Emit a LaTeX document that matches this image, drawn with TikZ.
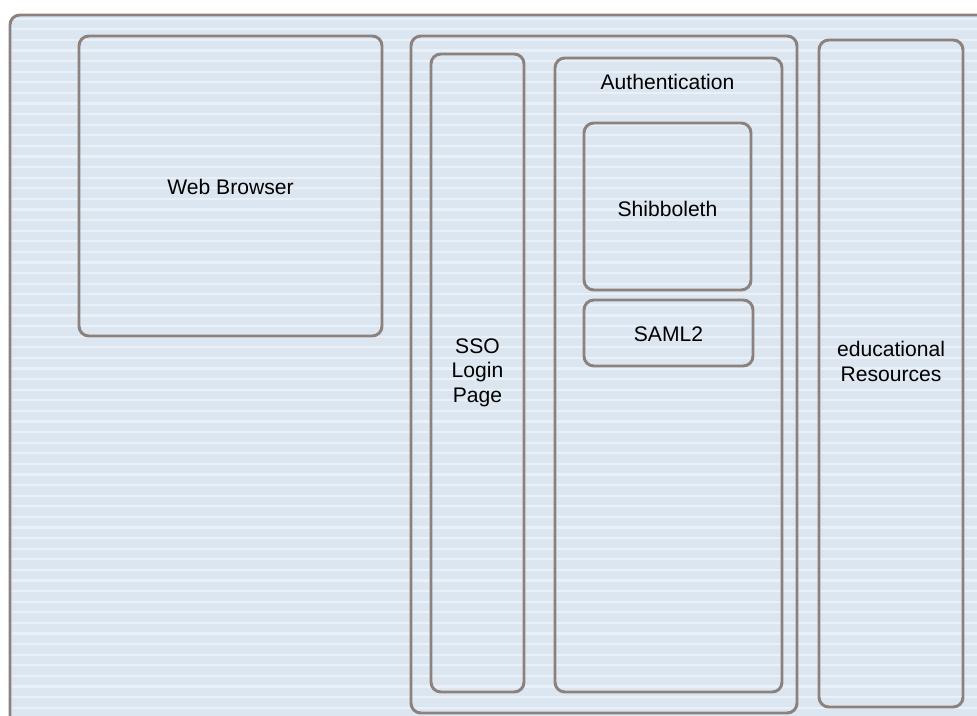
\documentclass[tikz,border=0pt]{standalone}
\usepackage{fontspec}
\setmainfont{Liberation Sans}
\usetikzlibrary{positioning}
\definecolor{paneblue}{HTML}{DCE6F0}
\definecolor{stripeblue}{HTML}{EAF0F7}
\definecolor{frameline}{HTML}{8C817D}
\tikzset{
    pane/.style={draw=frameline, line width=2.1pt, rounded corners=7pt},
    tag/.style={font=\fontsize{15}{17.6}\selectfont, align=center, anchor=base, inner sep=0pt},
}

\begin{document}
\begin{tikzpicture}[x=0.025cm, y=-0.025cm]

    \useasboundingbox (0,0) rectangle (977,715);

    % Draw the striped backdrop.
    \fill[paneblue, rounded corners=7pt] (10,15) rectangle (995,730);
    \begin{scope}
        \clip[rounded corners=7pt] (10,15) rectangle (995,730);
        \foreach \k in {0,1,...,66}
            \draw[stripeblue, line width=1.5pt] (10,{18.7+10.6*\k}) -- (995,{18.7+10.6*\k});
    \end{scope}
    \draw[pane] (10,15) rectangle (995,730);

    % Draw the boxes.
    \draw[pane] (79,36) rectangle (382,336);
    \draw[pane] (411,36) rectangle (797,713);
    \draw[pane] (431,54) rectangle (524,692);
    \draw[pane] (555,58) rectangle (782,692);
    \draw[pane] (584,123) rectangle (751,290);
    \draw[pane] (584,300) rectangle (753,366);
    \draw[pane] (819,40) rectangle (963,707);

    % Put the labels in.
    \node[tag] (browser) at (230.5,195) {Web Browser};
    \node[tag] (sso) at (477.5,402.7) {SSO\\Login\\Page};
    \node[tag] (auth) at (667.5,89.5) {Authentication};
    \node[tag] (shib) at (667.5,217) {Shibboleth};
    \node[tag] (saml) at (668.5,341) {SAML2};
    \node[tag] (resources) at (891,381.7) {educational\\Resources};

\end{tikzpicture}
\end{document}
